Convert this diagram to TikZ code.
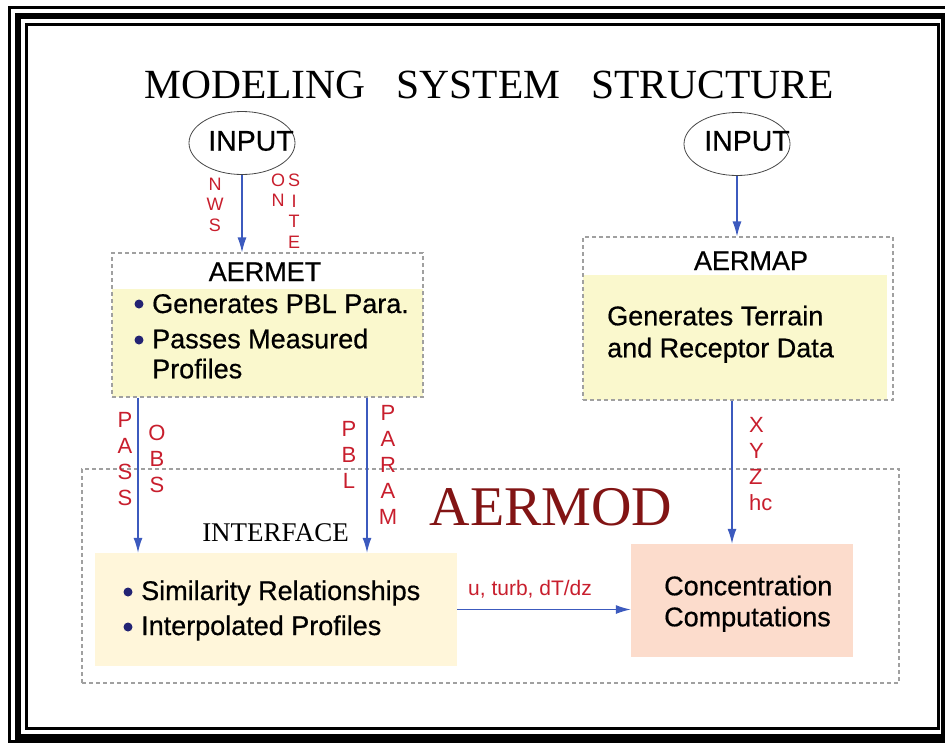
\documentclass[tikz,border=0pt]{standalone}
\usepackage{fontspec}
\setmainfont{Liberation Sans}
\newfontfamily\timesfont{Liberation Serif}
\newfontfamily\heavysans[FakeBold=0.6]{Liberation Sans}
\usepackage{tikz}
\usetikzlibrary{arrows.meta}
\usetikzlibrary{shapes.geometric}

\definecolor{flowblue}{RGB}{60,90,190}
\definecolor{lblred}{RGB}{200,30,45}
\definecolor{modred}{RGB}{130,20,20}
\definecolor{boxgray}{RGB}{160,160,160}
\definecolor{ringgray}{RGB}{70,70,70}
\definecolor{metyellow}{RGB}{250,248,205}
\definecolor{ifacecream}{RGB}{255,246,218}
\definecolor{concpeach}{RGB}{252,220,204}
\definecolor{dotnavy}{RGB}{35,35,115}

\begin{document}
\begin{tikzpicture}[
        x=1pt, y=-1pt,
        >={Latex[length=15pt,width=9pt]},
        flow/.style={->, flowblue, line width=1.3pt},
        dashbox/.style={rectangle, draw=boxgray, line width=1.1pt,
                        dash pattern=on 4pt off 3pt, inner sep=0pt},
        plainbox/.style={rectangle, inner sep=0pt},
        input/.style={ellipse, draw=ringgray, line width=0.8pt,
                      minimum width=106pt, minimum height=63pt},
        inputtxt/.style={inner sep=0pt, font=\heavysans\fontsize{28.5}{28.5}\selectfont},
        letters/.style={text=lblred, align=center, inner sep=0pt,
                        font=\fontsize{18}{20.5}\selectfont},
        bigletters/.style={text=lblred, align=center, inner sep=0pt,
                           font=\fontsize{22}{26}\selectfont},
        body/.style={inner sep=0pt, align=left,
                     font=\heavysans\fontsize{27}{#1}\selectfont},
        body/.default=32,
        heading/.style={inner sep=0pt, anchor=base,
                        font=\heavysans\fontsize{27}{27}\selectfont},
    ]
    \useasboundingbox (0, 0) rectangle (945, 742);
    \clip (0, 0) rectangle (945, 742);

    \draw[line width=3pt] (9.5, 7.5) rectangle (950, 741);
    \draw[line width=6pt] (18, 16) rectangle (944, 736.5);
    \draw[line width=3pt] (26.5, 24.5) rectangle (938.5, 728.5);

    \node[anchor=base, inner sep=0pt, font=\timesfont\fontsize{41.5}{41.5}\selectfont]
        (title) at (489, 98) {MODELING\hspace{31pt}SYSTEM\hspace{31pt}STRUCTURE};

    \node[input] (in1) at (242, 143) {};
    \node[inputtxt] (in1txt) at ([xshift=9pt,yshift=2pt]in1.center) {INPUT};
    \node[input] (in2) at (737, 144) {};
    \node[inputtxt] (in2txt) at ([xshift=10pt,yshift=3pt]in2.center) {INPUT};

    \fill[metyellow] (112, 289) rectangle (423, 397);
    \node[dashbox, minimum width=311pt, minimum height=144pt] (aermet) at (267.5, 325) {};
    \node[heading] (metname) at (265, 281) {AERMET};
    \fill[dotnavy] (139, 304) circle (4.5pt);
    \fill[dotnavy] (139, 340) circle (4.5pt);
    \node[body, anchor=base west] (met1) at (152, 313) {Generates PBL Para.};
    \node[body=30, anchor=north west] (met2) at (152, 328.5) {Passes Measured\\Profiles};

    \fill[metyellow] (583, 275) rectangle (887, 400);
    \node[dashbox, minimum width=310pt, minimum height=163pt] (aermap) at (738, 318.5) {};
    \node[heading] (mapname) at (751, 270) {AERMAP};
    \node[body, anchor=north west] (maptxt) at (607, 305.5) {Generates Terrain\\and Receptor Data};

    \node[dashbox, minimum width=817pt, minimum height=214pt] (aermod) at (490.5, 576) {};
    \node[anchor=base, inner sep=0pt, text=modred, font=\timesfont\fontsize{56}{56}\selectfont]
        (modname) at (551, 525) {AERMOD};
    \node[anchor=base, inner sep=0pt, font=\timesfont\fontsize{27}{27}\selectfont]
        (ifname) at (275.5, 541) {INTERFACE};

    \node[plainbox, fill=ifacecream, minimum width=362pt, minimum height=113pt] (iface) at (276, 609.5) {};
    \fill[dotnavy] (128, 592) circle (4.5pt);
    \fill[dotnavy] (128, 627) circle (4.5pt);
    \node[body, anchor=base west] (sim1) at (141, 600) {Similarity Relationships};
    \node[body, anchor=base west] (sim2) at (141, 635) {Interpolated Profiles};

    \node[plainbox, fill=concpeach, minimum width=222pt, minimum height=113pt] (conc) at (742, 600.5) {};
    \node[body=31, anchor=north west] (conctxt) at (664, 575.5) {Concentration\\Computations};

    \coordinate (passx) at (138, 0);
    \coordinate (pblx) at (367, 0);
    \coordinate (xyzx) at (732, 0);

    \draw[flow] (in1.south) -- (in1.south |- aermet.north);
    \draw[flow] (in2.south) -- (in2.south |- aermap.north);
    \draw[flow] (aermet.south -| passx) -- (iface.north -| passx);
    \draw[flow] (aermet.south -| pblx) -- (iface.north -| pblx);
    \draw[flow] (aermap.south -| xyzx) -- (conc.north -| xyzx);
    \draw[flow] (iface.east) -- (iface.east -| conc.west);

    \node[letters] (nws) at (215, 204.5) {N\\W\\S};
    \node[letters] (on) at (278, 190) {O\\N};
    \node[letters] (site) at (294, 211) {S\\I\\T\\E};
    \node[bigletters] (pass) at (125, 459) {P\\A\\S\\S};
    \node[bigletters] (obs) at (157, 459) {O\\B\\S};
    \node[bigletters] (pbl) at (349, 455) {P\\B\\L};
    \node[bigletters] (param) at (388, 465) {P\\A\\R\\A\\M};
    \node[bigletters, align=left, anchor=west] (xyz) at (749, 464) {X\\Y\\Z\\hc};
    \node[anchor=base west, inner sep=0pt, text=lblred, font=\fontsize{21}{21}\selectfont]
        (flux) at (468, 595) {u, turb, dT/dz};
\end{tikzpicture}
\end{document}
